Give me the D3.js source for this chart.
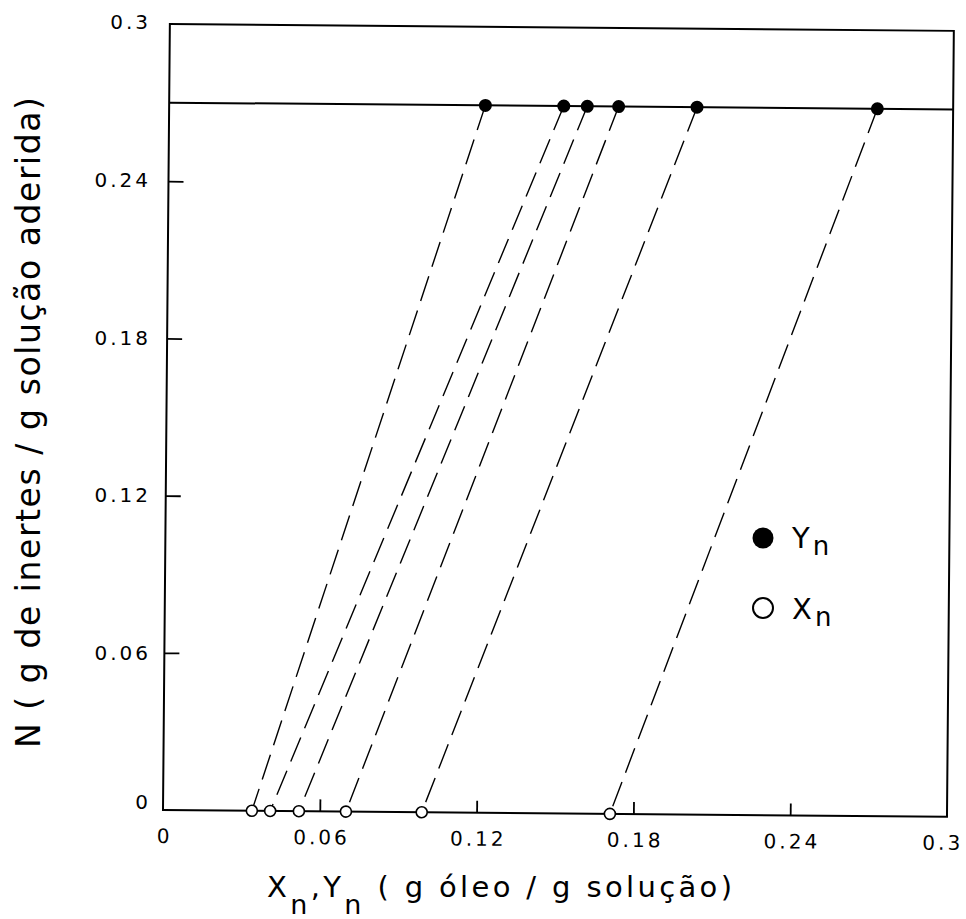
<!DOCTYPE html>
<html>
<head>
<meta charset="utf-8">
<script src="https://cdn.jsdelivr.net/npm/d3@7"></script>
<style>
  html, body { margin: 0; padding: 0; background: #fff; }
  svg { display: block; }
  text { font-family: "DejaVu Sans", sans-serif; fill: #000; }
</style>
</head>
<body>
<svg id="chart" width="966" height="919"></svg>
<script>
// Tick values for both axes
const xTickValues = [0, 0.06, 0.12, 0.18, 0.24, 0.3];
const yTickValues = [0, 0.06, 0.12, 0.18, 0.24, 0.3];

// Composition of the solution in each stage (g óleo / g solução)
const xnValues = [0.034, 0.041, 0.052, 0.070, 0.099, 0.171]; // X_n, on N = 0
const ynValues = [0.121, 0.151, 0.160, 0.172, 0.202, 0.271]; // Y_n, on the N line
const nOfX = 0;
const nOfY = 0.27;

const svg = d3.select("#chart");
svg.append("rect").attr("width", 966).attr("height", 919).attr("fill", "#fff");

const plotW = 784, plotH = 786;
const x = d3.scaleLinear().domain([0, 0.3]).range([0, plotW]);
const y = d3.scaleLinear().domain([0, 0.3]).range([plotH, 0]);

const tickFont = 20, tickSpacing = 3;

// The plotting frame sits with a slight clockwise tilt
const plot = svg.append("g")
  .attr("transform", "translate(163,810) rotate(0.5) translate(0," + (-plotH) + ")");

plot.append("rect")
  .attr("x", 0).attr("y", 0).attr("width", plotW).attr("height", plotH)
  .attr("fill", "none").attr("stroke", "#000").attr("stroke-width", 2);

// Inward tick marks
const innerX = xTickValues.filter(d => d > 0 && d < 0.3);
const innerY = yTickValues.filter(d => d > 0 && d < 0.3);

const xTicksG = plot.append("g").attr("transform", "translate(0," + plotH + ")")
  .call(d3.axisBottom(x).tickValues(innerX).tickSize(-12).tickFormat(""));
xTicksG.select(".domain").remove();
xTicksG.selectAll("line").attr("stroke", "#000").attr("stroke-width", 1.8);

const yTicksG = plot.append("g")
  .call(d3.axisLeft(y).tickValues(innerY).tickSize(-15).tickFormat(""));
yTicksG.select(".domain").remove();
yTicksG.selectAll("line").attr("stroke", "#000").attr("stroke-width", 1.8);

// X tick labels (the last one is kept inside the page edge)
const xLabG = plot.append("g").attr("transform", "translate(0," + plotH + ")")
  .call(d3.axisBottom(x).tickValues(xTickValues).tickSize(0).tickFormat(d => String(d)));
xLabG.select(".domain").remove();
xLabG.selectAll("text")
  .attr("y", 33).attr("dy", null)
  .attr("x", d => d === 0.3 ? 16 : 0)
  .attr("dx", d => d === 0.3 ? 0 : tickSpacing / 2)
  .attr("text-anchor", d => d === 0.3 ? "end" : "middle")
  .attr("font-size", tickFont).attr("letter-spacing", tickSpacing)
  .attr("font-family", "DejaVu Sans").attr("fill", "#000");

// Horizontal line at N = 0.27
plot.append("line")
  .attr("x1", 0).attr("x2", plotW)
  .attr("y1", y(nOfY)).attr("y2", y(nOfY))
  .attr("stroke", "#000").attr("stroke-width", 2);

// Dashed tie lines joining Y_n to X_n
plot.append("g").selectAll("line")
  .data(d3.range(xnValues.length))
  .join("line")
  .attr("x1", i => x(ynValues[i])).attr("y1", y(nOfY))
  .attr("x2", i => x(xnValues[i])).attr("y2", y(nOfX))
  .attr("stroke", "#000").attr("stroke-width", 1.4)
  .attr("stroke-dasharray", "26,10");

// Y_n points (filled)
plot.append("g").selectAll("circle")
  .data(ynValues)
  .join("circle")
  .attr("cx", d => x(d)).attr("cy", y(nOfY)).attr("r", 6.5)
  .attr("fill", "#000");

// X_n points (open)
plot.append("g").selectAll("circle")
  .data(xnValues)
  .join("circle")
  .attr("cx", d => x(d)).attr("cy", y(nOfX)).attr("r", 5.5)
  .attr("fill", "#fff").attr("stroke", "#000").attr("stroke-width", 1.6);

// Y tick labels
const yLab = d3.scaleLinear().domain([0, 0.3]).range([811, 22]);
const yLabG = svg.append("g").attr("transform", "translate(" + (148 + tickSpacing) + ",0)")
  .call(d3.axisLeft(yLab).tickValues(yTickValues).tickSize(0).tickPadding(0).tickFormat(d => String(d)));
yLabG.select(".domain").remove();
yLabG.selectAll("text")
  .attr("font-size", tickFont).attr("letter-spacing", tickSpacing)
  .attr("font-family", "DejaVu Sans").attr("fill", "#000")
  .attr("y", d => d === 0 ? -9 : 0);

// Axis titles
const xTitle = svg.append("text")
  .attr("x", 267).attr("y", 897)
  .attr("font-size", 29)
  .attr("textLength", 465).attr("lengthAdjust", "spacing");
xTitle.append("tspan").text("X");
xTitle.append("tspan").attr("dy", 17).attr("font-size", 27).text("n");
xTitle.append("tspan").attr("dy", -17).text(",Y");
xTitle.append("tspan").attr("dy", 17).attr("font-size", 27).text("n");
xTitle.append("tspan").attr("dy", -17).text(" ( g óleo / g solução)");

svg.append("text")
  .attr("transform", "translate(40,422.5) rotate(-90)")
  .attr("text-anchor", "middle")
  .attr("font-size", 33)
  .attr("textLength", 651).attr("lengthAdjust", "spacing")
  .text("N ( g de inertes / g solução aderida)");

// Legend
const legend = svg.append("g");
legend.append("circle").attr("cx", 763).attr("cy", 538).attr("r", 10.5).attr("fill", "#000");
legend.append("circle").attr("cx", 763).attr("cy", 608).attr("r", 10)
  .attr("fill", "#fff").attr("stroke", "#000").attr("stroke-width", 2);

const legY = legend.append("text").attr("x", 792).attr("y", 548).attr("font-size", 29);
legY.append("tspan").text("Y");
legY.append("tspan").attr("dx", 3).attr("dy", 7).attr("font-size", 26).text("n");

const legX = legend.append("text").attr("x", 792).attr("y", 619).attr("font-size", 29);
legX.append("tspan").text("X");
legX.append("tspan").attr("dx", 3).attr("dy", 7).attr("font-size", 26).text("n");
</script>
</body>
</html>
